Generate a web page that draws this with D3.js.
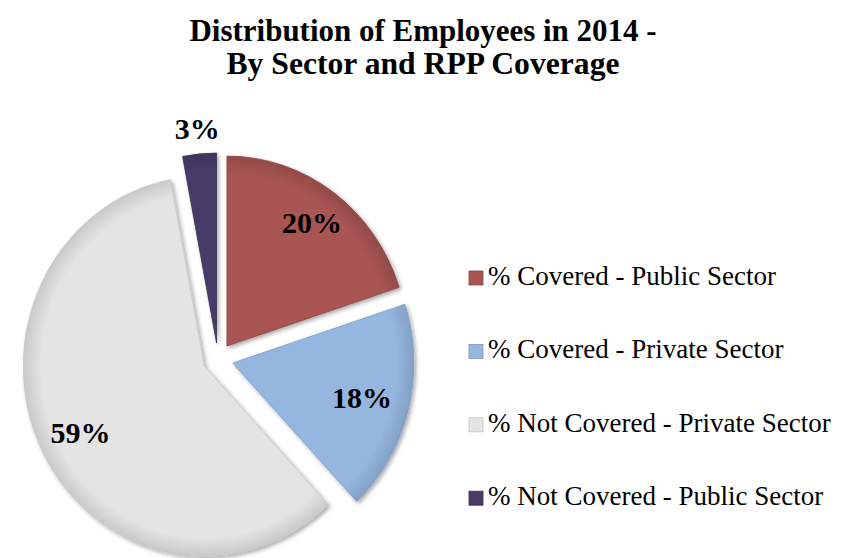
<!DOCTYPE html>
<html><head><meta charset="utf-8">
<script src="https://cdn.jsdelivr.net/npm/d3@7/dist/d3.min.js"></script>
<style>body{margin:0;background:#fff}svg{display:block}</style>
</head><body>
<svg id="c" width="845" height="558"></svg>
<script>
const categories = ["% Covered - Public Sector","% Covered - Private Sector","% Not Covered - Private Sector","% Not Covered - Public Sector"];
const values = [20, 18, 59, 3];
const labels = ["20%","18%","59%","3%"];
const colors = ["#a85553","#95b6df","#e4e4e4","#4a3b68"];
const strokeColors = ["#8d4341","#7b9cc6","#c4c4c4","#362a50"];
const titleLines = ["Distribution of Employees in 2014 -","By Sector and RPP Coverage"];

const svg = d3.select("#c");
const defs = svg.append("defs");
const f = defs.append("filter").attr("id","sh").attr("x","-20%").attr("y","-20%").attr("width","140%").attr("height","140%");
f.append("feDropShadow").attr("dx",2).attr("dy",2).attr("stdDeviation",2).attr("flood-color","#000").attr("flood-opacity",0.35);

colors.forEach((c,i)=>{
  const g = defs.append("radialGradient").attr("id","g"+i).attr("gradientUnits","userSpaceOnUse")
    .attr("cx",0).attr("cy",0).attr("r",190);
  g.append("stop").attr("offset","0.9").attr("stop-color",c);
  g.append("stop").attr("offset","1").attr("stop-color",d3.color(c).darker(0.35));
});

// title
svg.selectAll("text.title").data(titleLines).join("text")
  .attr("class","title")
  .attr("x",423).attr("y",(d,i)=>41+i*33)
  .attr("text-anchor","middle")
  .attr("font-family","'Liberation Serif','Times New Roman',serif")
  .attr("font-weight","bold").attr("font-size",31)
  .attr("textLength",(d,i)=>i===0?467:393)
  .attr("lengthAdjust","spacingAndGlyphs")
  .text(d=>d);

// pie
const R = 190, sx = 0.953, explode = 16;
const cx = 218, cy = 359;
const pie = d3.pie().sort(null).value(d=>d)(values);
const arc = d3.arc().innerRadius(0).outerRadius(R);
const pg = svg.append("g").attr("transform",`translate(${cx},${cy})`);

function off(d, r){
  const a = (d.startAngle+d.endAngle)/2;
  return [sx*r*Math.sin(a), -r*Math.cos(a)];
}
pg.selectAll("path").data(pie).join("path")
  .attr("transform",d=>{const o=off(d,explode);return `translate(${o[0]},${o[1]}) scale(${sx},1)`;})
  .attr("d",arc)
  .attr("fill",(d,i)=>`url(#g${i})`)
  .attr("stroke",(d,i)=>strokeColors[i]).attr("stroke-width",0.8)
  .attr("filter","url(#sh)");

const labR = [152,140,146,215];
pg.selectAll("text").data(pie).join("text")
  .attr("transform",(d,i)=>{const o=off(d,explode);const p=off(d,labR[i]);return `translate(${o[0]+p[0]},${o[1]+p[1]})`;})
  .attr("text-anchor","middle").attr("dy","0.34em")
  .attr("font-family","'Liberation Serif','Times New Roman',serif")
  .attr("font-weight","bold").attr("font-size",30)
  .text((d,i)=>labels[i]);

// legend
const lg = svg.append("g");
const rows = lg.selectAll("g").data(categories).join("g")
  .attr("transform",(d,i)=>`translate(469,${285+i*73.4})`);
rows.append("rect").attr("x",0).attr("y",-14).attr("width",14).attr("height",14)
  .attr("fill",(d,i)=>colors[i]).attr("stroke",(d,i)=>strokeColors[i]).attr("stroke-width",0.8);
rows.append("text").attr("x",19).attr("y",0)
  .attr("font-family","'Liberation Serif','Times New Roman',serif")
  .attr("font-size",27).attr("fill","#000")
  .text(d=>d);
</script>
</body></html>
